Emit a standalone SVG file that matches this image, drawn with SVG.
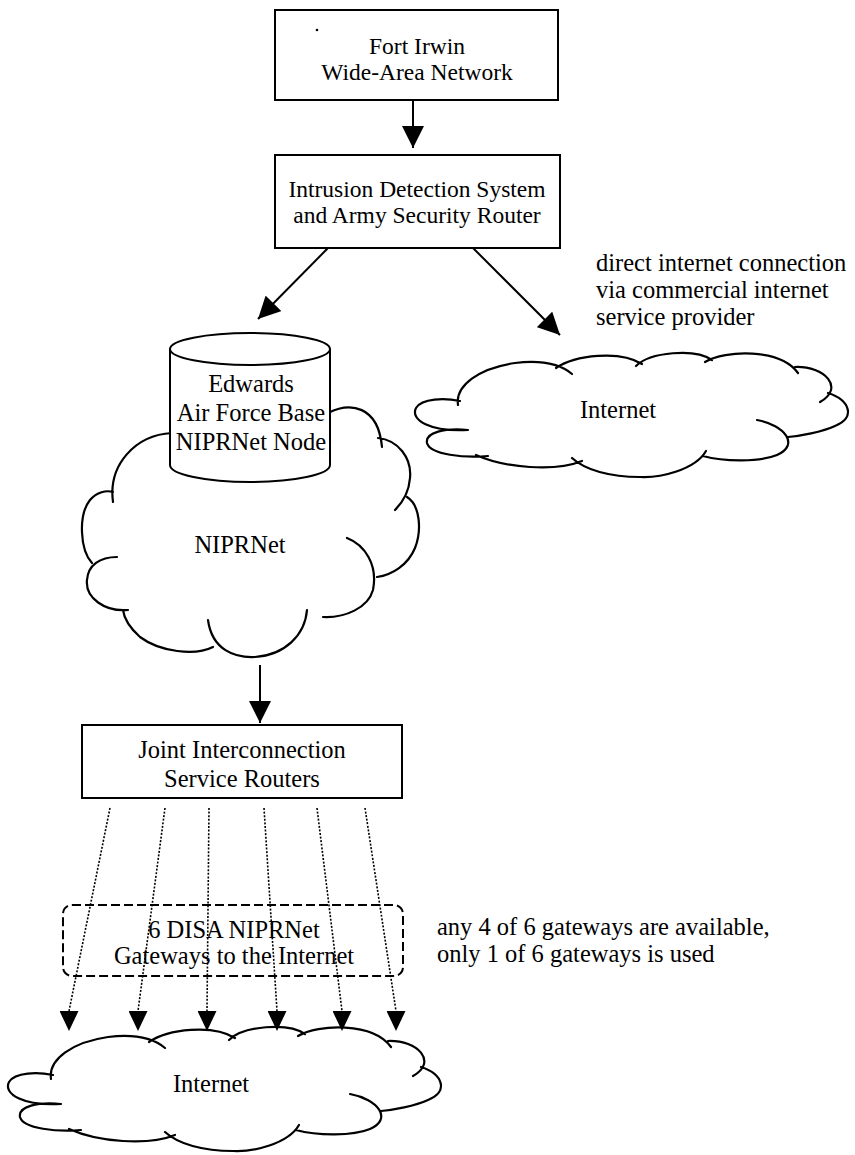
<svg xmlns="http://www.w3.org/2000/svg" width="855" height="1155" viewBox="0 0 855 1155">
<style>
text{font-family:"Liberation Serif","Times New Roman",serif;font-size:24.5px;fill:#000}
.c{text-anchor:middle}
.t{font-size:23.5px}
.box{fill:#fff;stroke:#000;stroke-width:2}
.ln{stroke:#000;stroke-width:2;fill:none}
.dot{stroke:#000;stroke-width:1.6;stroke-dasharray:2 1.6;fill:none}
.cloud{fill:none;stroke:#000;stroke-width:2.2;stroke-linecap:round}
.dash{fill:none;stroke:#000;stroke-width:2;stroke-dasharray:9 4}
</style>
<defs>
<marker id="ah" markerUnits="userSpaceOnUse" markerWidth="22" markerHeight="22" viewBox="0 0 20 20" refX="20" refY="10" orient="auto">
<path d="M0,0 L20,10 L0,20 z" fill="#000" stroke="none"/>
</marker>
<marker id="dh" markerUnits="userSpaceOnUse" markerWidth="20" markerHeight="19" viewBox="0 0 20 19" refX="0" refY="9.5" orient="90">
<path d="M0,0 L20,9.5 L0,19 z" fill="#000" stroke="none"/>
</marker>
<path id="inetCloud" class="cloud" d="M468,430 C430,432 410,420 416,408 C422,398 445,398 460,401
M458,405 C455,385 480,368 515,363 C540,360 560,364 572,374
M556,368 C575,355 620,350 642,364
M636,366 C650,352 695,348 712,360
M705,362 C725,350 780,348 798,373
M795,367 C825,366 845,388 820,402
M828,393 C850,400 856,418 835,426 C822,432 800,436 788,437
M757,420 C785,425 800,445 777,455 C760,462 725,462 703,456
M706,451 C695,470 660,478 640,477 C610,477 585,470 572,458
M582,461 C555,472 505,468 476,455
M488,456 C465,458 430,455 427,443 C425,432 445,428 468,430"/>
</defs>

<g id="fort-irwin">
<rect class="box" x="275" y="10" width="283" height="90"/>
<circle cx="317" cy="30" r="1.3" fill="#000"/>
<text class="c t" x="417" y="54">Fort Irwin</text>
<text class="c t" x="417" y="80">Wide-Area Network</text>
</g>

<g id="ids-router">
<rect class="box" x="275" y="155" width="285" height="93"/>
<text class="c t" x="417" y="197">Intrusion Detection System</text>
<text class="c t" x="417" y="223">and Army Security Router</text>
</g>

<g id="direct-note">
<text x="596" y="271">direct internet connection</text>
<text x="596" y="298">via commercial internet</text>
<text x="596" y="325">service provider</text>
</g>

<g id="internet-top">
<use href="#inetCloud"/>
<text class="c" x="618" y="418">Internet</text>
</g>

<g id="niprnet-cloud">
<path class="cloud" d="M113,502 C108,465 135,435 172,433
M328,413 C350,402 378,405 382,447
M378,438 C398,440 412,458 410,478 C409,492 402,503 395,510
M407,497 C420,505 422,530 415,548 C408,565 392,575 377,577
M347,538 C365,545 378,565 373,590 C368,608 345,618 323,617
M307,610 C305,635 285,655 255,657 C235,658 212,650 208,620
M213,647 C195,656 160,652 140,637 C130,628 124,618 123,610
M128,610 C105,612 85,598 87,580 C88,565 100,557 117,557
M92,563 C80,550 78,515 90,500 C97,492 106,490 113,492"/>
<text class="c" x="240" y="553">NIPRNet</text>
</g>

<g id="edwards-node">
<path class="box" d="M170,349 L170,465 A80,17 0 0 0 330,465 L330,349 A80,16 0 0 0 170,349 z"/>
<path class="ln" d="M170,349 A80,16 0 0 0 330,349"/>
<text class="c" x="251" y="392">Edwards</text>
<text class="c" x="251" y="421">Air Force Base</text>
<text class="c" x="251" y="450">NIPRNet Node</text>
</g>

<g id="jis-routers">
<rect class="box" x="82" y="725" width="320" height="73"/>
<text class="c" x="242" y="758">Joint Interconnection</text>
<text class="c" x="242" y="787">Service Routers</text>
</g>

<g id="disa-gateways">
<rect class="dash" x="63" y="905" width="340" height="71" rx="9"/>
<text class="c" x="234" y="938">6 DISA NIPRNet</text>
<text class="c" x="234" y="964">Gateways to the Internet</text>
</g>

<g id="gateway-note">
<text x="437" y="935">any 4 of 6 gateways are available,</text>
<text x="437" y="962">only 1 of 6 gateways is used</text>
</g>

<g id="internet-bottom">
<use href="#inetCloud" transform="translate(-407,674)"/>
<text class="c" x="211" y="1092">Internet</text>
</g>

<g id="connectors">
<line class="ln" x1="413" y1="100" x2="413" y2="148" marker-end="url(#ah)"/>
<line class="ln" x1="328" y1="248" x2="258" y2="319" marker-end="url(#ah)"/>
<line class="ln" x1="473" y1="248" x2="560" y2="335" marker-end="url(#ah)"/>
<line class="ln" x1="260" y1="665" x2="260" y2="723" marker-end="url(#ah)"/>
<line class="dot" x1="110" y1="808" x2="69" y2="1011" marker-end="url(#dh)"/>
<line class="dot" x1="165" y1="808" x2="138" y2="1011" marker-end="url(#dh)"/>
<line class="dot" x1="209" y1="808" x2="207" y2="1011" marker-end="url(#dh)"/>
<line class="dot" x1="264" y1="808" x2="277" y2="1011" marker-end="url(#dh)"/>
<line class="dot" x1="317" y1="808" x2="342" y2="1011" marker-end="url(#dh)"/>
<line class="dot" x1="365" y1="808" x2="396" y2="1011" marker-end="url(#dh)"/>
</g>
</svg>
